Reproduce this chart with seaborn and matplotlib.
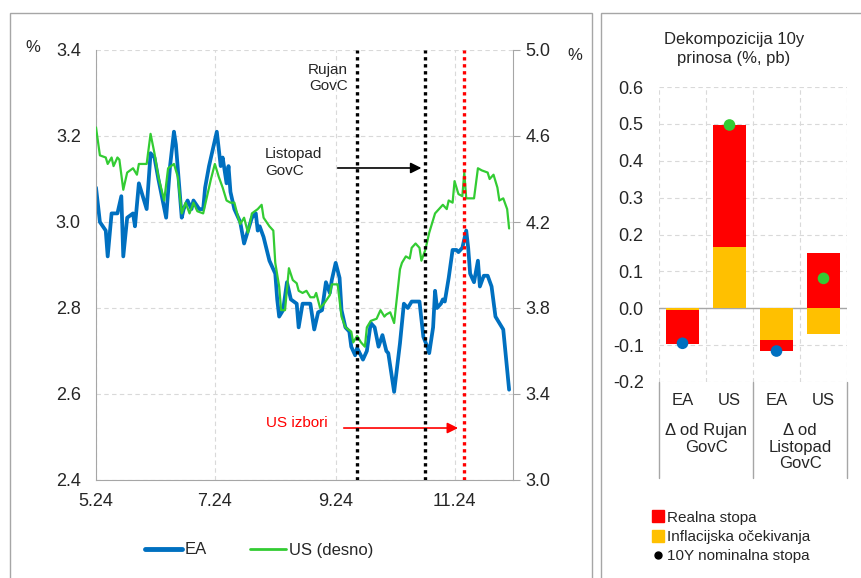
import seaborn as sns
import pandas as pd
import numpy as np
import matplotlib.pyplot as plt
from matplotlib.patches import Rectangle
from matplotlib.lines import Line2D
import matplotlib.transforms as mtransforms

# --- data: 10y yields (EA left axis, US right axis) ---
ea_dates = ["2024-05-01", "2024-05-03", "2024-05-06", "2024-05-07", "2024-05-09", "2024-05-12",
            "2024-05-14", "2024-05-15", "2024-05-17", "2024-05-20", "2024-05-21", "2024-05-23",
            "2024-05-25", "2024-05-27", "2024-05-29", "2024-05-31", "2024-06-02", "2024-06-06",
            "2024-06-08", "2024-06-10", "2024-06-11", "2024-06-14", "2024-06-15", "2024-06-17",
            "2024-06-19", "2024-06-20", "2024-06-23", "2024-06-25", "2024-06-26", "2024-06-28",
            "2024-07-02", "2024-07-03", "2024-07-04", "2024-07-05", "2024-07-07", "2024-07-08",
            "2024-07-09", "2024-07-11", "2024-07-12", "2024-07-14", "2024-07-16", "2024-07-17",
            "2024-07-20", "2024-07-22", "2024-07-23", "2024-07-24", "2024-07-26", "2024-07-29",
            "2024-08-01", "2024-08-02", "2024-08-03", "2024-08-05", "2024-08-07", "2024-08-09",
            "2024-08-12", "2024-08-13", "2024-08-15", "2024-08-19", "2024-08-21", "2024-08-23",
            "2024-08-25", "2024-08-27", "2024-08-29", "2024-08-30", "2024-09-01", "2024-09-03",
            "2024-09-04", "2024-09-06", "2024-09-08", "2024-09-09", "2024-09-11", "2024-09-12",
            "2024-09-15", "2024-09-17", "2024-09-19", "2024-09-21", "2024-09-23", "2024-09-25",
            "2024-09-27", "2024-09-28", "2024-10-01", "2024-10-04", "2024-10-06", "2024-10-08",
            "2024-10-10", "2024-10-12", "2024-10-14", "2024-10-16", "2024-10-18", "2024-10-19",
            "2024-10-21", "2024-10-22", "2024-10-23", "2024-10-25", "2024-10-26", "2024-10-27",
            "2024-10-29", "2024-10-31", "2024-11-02", "2024-11-03", "2024-11-05", "2024-11-07",
            "2024-11-08", "2024-11-09", "2024-11-11", "2024-11-13", "2024-11-14", "2024-11-16",
            "2024-11-18", "2024-11-20", "2024-11-22", "2024-11-24", "2024-11-26", "2024-11-29"]
ea_vals = [3.08, 3.00, 2.98, 2.92, 3.02, 3.02,
           3.06, 2.92, 3.01, 3.02, 2.99, 3.09,
           3.06, 3.03, 3.16, 3.15, 3.10, 3.01,
           3.13, 3.21, 3.18, 3.01, 3.03, 3.05,
           3.03, 3.05, 3.03, 3.03, 3.08, 3.13,
           3.21, 3.17, 3.13, 3.15, 3.09, 3.13,
           3.07, 3.03, 3.02, 3.00, 2.95, 2.965,
           3.01, 3.02, 2.98, 2.99, 2.965, 2.91,
           2.88, 2.82, 2.78, 2.795, 2.86, 2.82,
           2.81, 2.755, 2.81, 2.81, 2.75, 2.79,
           2.795, 2.86, 2.835, 2.865, 2.905, 2.87,
           2.795, 2.755, 2.745, 2.71, 2.69, 2.707,
           2.68, 2.70, 2.765, 2.755, 2.71, 2.737,
           2.70, 2.695, 2.605, 2.718, 2.81, 2.80,
           2.815, 2.815, 2.815, 2.733, 2.71, 2.695,
           2.755, 2.84, 2.80, 2.81, 2.82, 2.815,
           2.87, 2.935, 2.935, 2.93, 2.94, 2.98,
           2.94, 2.88, 2.86, 2.91, 2.85, 2.875,
           2.875, 2.85, 2.78, 2.765, 2.75, 2.61]

us_dates = ["2024-05-01", "2024-05-03", "2024-05-06", "2024-05-07", "2024-05-09", "2024-05-10",
            "2024-05-12", "2024-05-13", "2024-05-15", "2024-05-17", "2024-05-20", "2024-05-22",
            "2024-05-23", "2024-05-27", "2024-05-29", "2024-05-31", "2024-06-02", "2024-06-05",
            "2024-06-07", "2024-06-10", "2024-06-12", "2024-06-14", "2024-06-16", "2024-06-18",
            "2024-06-20", "2024-06-22", "2024-06-25", "2024-06-27", "2024-06-29", "2024-07-01",
            "2024-07-03", "2024-07-05", "2024-07-07", "2024-07-09", "2024-07-11", "2024-07-13",
            "2024-07-14", "2024-07-16", "2024-07-18", "2024-07-20", "2024-07-23", "2024-07-25",
            "2024-07-26", "2024-07-29", "2024-07-31", "2024-08-01", "2024-08-03", "2024-08-04",
            "2024-08-06", "2024-08-08", "2024-08-10", "2024-08-12", "2024-08-13", "2024-08-15",
            "2024-08-17", "2024-08-19", "2024-08-21", "2024-08-22", "2024-08-24", "2024-08-26",
            "2024-08-29", "2024-08-30", "2024-09-02", "2024-09-04", "2024-09-06", "2024-09-09",
            "2024-09-10", "2024-09-12", "2024-09-14", "2024-09-16", "2024-09-17", "2024-09-19",
            "2024-09-22", "2024-09-24", "2024-09-26", "2024-09-27", "2024-09-29", "2024-10-01",
            "2024-10-04", "2024-10-05", "2024-10-07", "2024-10-09", "2024-10-10", "2024-10-12",
            "2024-10-14", "2024-10-15", "2024-10-17", "2024-10-19", "2024-10-22", "2024-10-24",
            "2024-10-26", "2024-10-28", "2024-10-29", "2024-10-31", "2024-11-01", "2024-11-03",
            "2024-11-05", "2024-11-06", "2024-11-07", "2024-11-08", "2024-11-11", "2024-11-13",
            "2024-11-15", "2024-11-18", "2024-11-19", "2024-11-21", "2024-11-23", "2024-11-24",
            "2024-11-26", "2024-11-28", "2024-11-29"]
us_vals = [4.64, 4.51, 4.50, 4.47, 4.50, 4.46,
           4.50, 4.49, 4.35, 4.43, 4.45, 4.42,
           4.47, 4.47, 4.61, 4.52, 4.41, 4.30,
           4.45, 4.47, 4.41, 4.24, 4.29, 4.24,
           4.29, 4.25, 4.24, 4.32, 4.40, 4.47,
           4.41, 4.36, 4.30, 4.29, 4.29, 4.22,
           4.19, 4.22, 4.15, 4.24, 4.26, 4.28,
           4.22, 4.18, 4.16, 4.01, 3.90, 3.79,
           3.79, 3.985, 3.93, 3.915, 3.88, 3.87,
           3.88, 3.85, 3.85, 3.87, 3.80, 3.82,
           3.86, 3.91, 3.91, 3.76, 3.71, 3.69,
           3.64, 3.67, 3.64, 3.62, 3.71, 3.74,
           3.75, 3.79, 3.76, 3.77, 3.78, 3.73,
           3.98, 4.01, 4.04, 4.03, 4.08, 4.10,
           4.08, 4.02, 4.07, 4.15, 4.24, 4.26,
           4.28, 4.26, 4.30, 4.29, 4.39, 4.33,
           4.32, 4.43, 4.31, 4.31, 4.31, 4.45,
           4.44, 4.43, 4.40, 4.42, 4.36, 4.30,
           4.31, 4.26, 4.17]

tick_dates = ["2024-05-01", "2024-07-01", "2024-09-01", "2024-11-01"]
tick_labels = ["5.24", "7.24", "9.24", "11.24"]
rujan_govc = "2024-09-12"
listopad_govc = "2024-10-17"
us_izbori = "2024-11-06"

# --- data: decomposition bars ---
bar_cats = ["EA", "US", "EA", "US"]
group_labels = ["\u0394 od Rujan\nGovC", "\u0394 od\nListopad\nGovC"]
inflacija = np.array([-0.004, 0.167, -0.087, -0.069])
realna = np.array([-0.094, 0.330, -0.029, 0.149])
nominalna = np.array([-0.095, 0.497, -0.116, 0.081])

BLUE = "#0070C0"
GREEN = "#33CC33"
RED = "#FF0000"
YELLOW = "#FFC000"
GREY = "#A6A6A6"
GRID = "#D9D9D9"

sns.set_style("white")
plt.rcParams['font.family'] = ['Liberation Sans', 'DejaVu Sans']
plt.rcParams['text.color'] = '#262626'
plt.rcParams['xtick.color'] = '#262626'
plt.rcParams['ytick.color'] = '#262626'

fig = plt.figure(figsize=(8.61, 5.78), dpi=100)

# panel frames
for x0, x1 in [(10, 592), (601, 880)]:
    fig.patches.append(Rectangle((x0 / 861, -0.1), (x1 - x0) / 861, 0.9775 + 0.1,
                                 transform=fig.transFigure, fill=False,
                                 edgecolor=GREY, lw=1.0))

# ---------------- left panel ----------------
ax = fig.add_axes([96 / 861, 1 - 480 / 578, 417 / 861, 430 / 578])
ax2 = ax.twinx()

ea = pd.DataFrame({"date": pd.to_datetime(ea_dates), "y": ea_vals})
us = pd.DataFrame({"date": pd.to_datetime(us_dates), "y": us_vals})

sns.lineplot(data=ea, x="date", y="y", ax=ax, color=BLUE, lw=2.7)
sns.lineplot(data=us, x="date", y="y", ax=ax2, color=GREEN, lw=1.6)

ax.set_xlim(pd.Timestamp("2024-05-01"), pd.Timestamp("2024-12-01"))
ax.set_ylim(2.4, 3.4)
ax2.set_ylim(3.0, 5.0)
ax.set_yticks(np.arange(2.4, 3.41, 0.2))
ax2.set_yticks(np.arange(3.0, 5.01, 0.4))
ax.set_yticklabels([f"{v:.1f}" for v in np.arange(2.4, 3.41, 0.2)])
ax2.set_yticklabels([f"{v:.1f}" for v in np.arange(3.0, 5.01, 0.4)])
ax.set_xticks(pd.to_datetime(tick_dates))
ax.set_xticklabels(tick_labels)
ax.set_xlabel("")
ax.set_ylabel("")
ax2.set_ylabel("")

ax.grid(True, ls=(0, (4, 3)), color=GRID, lw=0.8)
ax.set_axisbelow(True)
for a in (ax, ax2):
    a.spines["top"].set_visible(False)
ax.spines["right"].set_visible(False)
ax2.spines["left"].set_visible(False)
ax2.spines["bottom"].set_visible(False)
ax.spines["left"].set_color(GREY)
ax.spines["bottom"].set_color(GREY)
ax2.spines["right"].set_color(GREY)
ax.tick_params(axis="x", length=4, color=GREY, labelsize=13, pad=5)
ax.tick_params(axis="y", length=0, labelsize=13, pad=11)
ax2.tick_params(axis="y", length=5, color=GREY, labelsize=13, pad=4)

for d, c in [(rujan_govc, "black"), (listopad_govc, "black"), (us_izbori, RED)]:
    ax2.axvline(pd.Timestamp(d), color=c, lw=2.4, ls=(0, (1, 1.1)), zorder=5)

ax2.text(0.604, 0.935, "Rujan\nGovC", transform=ax.transAxes, ha="right", va="center",
         fontsize=11, linespacing=1.25)
ax2.text(0.405, 0.738, "Listopad\nGovC", transform=ax.transAxes, ha="left", va="center",
         fontsize=11, linespacing=1.25)
ax2.annotate("", xy=(0.787, 0.7256), xytext=(0.573, 0.7256), xycoords=ax.transAxes,
             textcoords=ax.transAxes,
             arrowprops=dict(arrowstyle="-|>", color="black", lw=1.2, mutation_scale=16))
ax2.text(0.4077, 0.1326, "US izbori", transform=ax.transAxes, ha="left", va="center",
         fontsize=11, color=RED)
ax2.annotate("", xy=(0.875, 0.1209), xytext=(0.5875, 0.1209), xycoords=ax.transAxes,
             textcoords=ax.transAxes,
             arrowprops=dict(arrowstyle="-|>", color=RED, lw=1.2, mutation_scale=16))

fig.text(33 / 861, 1 - 48 / 578, "%", fontsize=12, ha="center", va="center")
fig.text(575 / 861, 1 - 56 / 578, "%", fontsize=12, ha="center", va="center")

handles = [Line2D([], [], color=BLUE, lw=3.5), Line2D([], [], color=GREEN, lw=2)]
fig.legend(handles, ["EA", "US (desno)"], loc="center", bbox_to_anchor=(0.301, 1 - 550 / 578),
           ncol=2, frameon=False, fontsize=12, handlelength=2.2, handletextpad=0.15,
           columnspacing=2.6)

# ---------------- right panel ----------------
ax3 = fig.add_axes([659 / 861, 1 - 382 / 578, 188 / 861, 295 / 578])
pos = np.arange(len(bar_cats))
w = 0.7

infl_bottom = np.zeros(len(pos))
real_bottom = np.where(np.sign(realna) == np.sign(inflacija), inflacija, 0.0)
ax3.bar(pos, inflacija, w, bottom=infl_bottom, color=YELLOW, lw=0, zorder=3)
ax3.bar(pos, realna, w, bottom=real_bottom, color=RED, lw=0, zorder=3)
sns.scatterplot(x=pos, y=nominalna, hue=bar_cats, palette={"EA": BLUE, "US": GREEN},
                s=70, edgecolor="none", ax=ax3, zorder=4, legend=False)

ax3.set_xlim(-0.5, 3.5)
ax3.set_ylim(-0.2, 0.6)
yt = np.arange(-0.2, 0.61, 0.1)
ax3.set_yticks(yt)
ax3.set_yticklabels([f"{v:.1f}" for v in yt])
ax3.set_xticks([])
ax3.set_xticks(np.arange(-0.5, 3.6, 1.0), minor=True)
ax3.tick_params(axis="x", which="both", length=0, labelbottom=False)
ax3.tick_params(axis="y", length=0, labelsize=13, pad=11)
ax3.grid(True, axis="y", ls=(0, (4, 3)), color=GRID, lw=0.8)
ax3.grid(True, axis="x", which="minor", ls=(0, (4, 3)), color=GRID, lw=0.8)
ax3.set_axisbelow(True)
for s in ax3.spines.values():
    s.set_visible(False)
ax3.axhline(0, color=GREY, lw=1.0, zorder=2)

trans = mtransforms.blended_transform_factory(ax3.transData, ax3.transAxes)
for p, lab in zip(pos, bar_cats):
    ax3.text(p, -0.064, lab, transform=trans, ha="center", va="center", fontsize=12)
for i, g in enumerate(group_labels):
    ax3.text(0.5 + 2 * i, -0.138, g, transform=trans, ha="center", va="top", fontsize=12,
             linespacing=1.15)
for xs in [-0.5, 1.5, 3.5]:
    ax3.plot([xs, xs], [0, -0.325], transform=trans, color=GREY, lw=1.0, clip_on=False)

fig.text(734 / 861, 1 - 49 / 578, "Dekompozicija 10y\nprinosa (%, pb)", ha="center",
         va="center", fontsize=12, linespacing=1.3)

leg_handles = [Line2D([], [], marker="s", color=RED, ls="none", markersize=8),
               Line2D([], [], marker="s", color=YELLOW, ls="none", markersize=8),
               Line2D([], [], marker="o", color="black", ls="none", markersize=5)]
fig.legend(leg_handles, ["Realna stopa", "Inflacijska o\u010dekivanja", "10Y nominalna stopa"],
           loc="center left", bbox_to_anchor=(646 / 861, 1 - 537 / 578), frameon=False,
           fontsize=11, handlelength=0.8, handletextpad=0.2, labelspacing=0.35,
           borderaxespad=0)

fig.savefig("out.png", dpi=100)
